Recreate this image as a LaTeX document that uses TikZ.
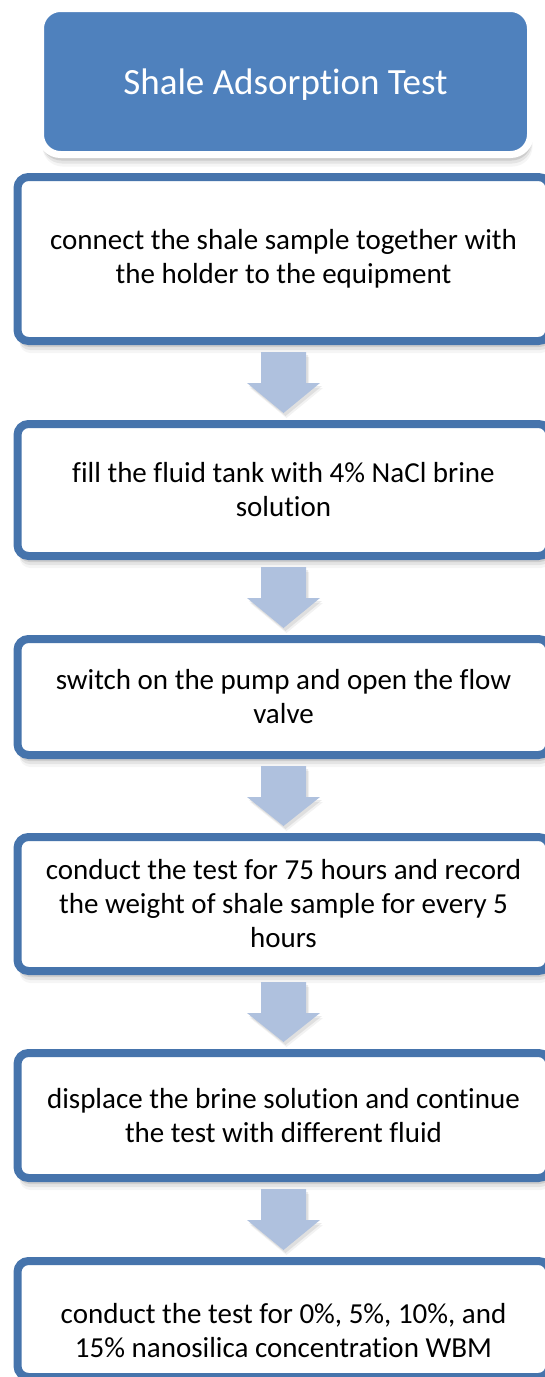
\documentclass[tikz,border=0pt]{standalone}
\usepackage{fontspec}
\setmainfont[Ligatures=NoCommon]{Carlito}
\usetikzlibrary{shadows,calc}

\definecolor{stepline}{HTML}{4674AC}
\definecolor{titlefill}{HTML}{4F81BD}
\definecolor{arrowfill}{HTML}{AFC1DE}

\tikzset{
  softshadow/.style={
    general shadow={fill=black, opacity=.10, shadow xshift=1pt, shadow yshift=-6pt},
    general shadow={fill=black, opacity=.07, shadow xshift=1.5pt, shadow yshift=-9pt},
    general shadow={fill=black, opacity=.04, shadow xshift=2pt, shadow yshift=-12pt}},
  titlebox/.style={draw=white, line width=7pt, fill=titlefill, rounded corners=20pt,
    minimum width=490pt, minimum height=146pt, inner sep=0pt, text=white,
    text depth=0pt, font=\fontsize{37}{44}\selectfont, softshadow},
  stepbox/.style={draw=stepline, line width=8pt, fill=white, rounded corners=11pt,
    minimum width=532pt, inner sep=0pt, align=center,
    font=\fontsize{29}{34}\selectfont, softshadow},
  flowarrow/.style={fill=arrowfill,
    general shadow={fill=black, opacity=.08, shadow xshift=2pt, shadow yshift=-3pt},
    general shadow={fill=black, opacity=.05, shadow xshift=3pt, shadow yshift=-5pt}},
}

\begin{document}
\begin{tikzpicture}[x=1pt, y=-1pt]
  \useasboundingbox (0,0) rectangle (544,1377);

  % heading
  \node[titlebox] (title) at (285.5,81.5) {Shale Adsorption Test};

  % procedure steps
  \node[stepbox, minimum height=164pt] (b1) at (283.5,259)
    {connect the shale sample together with\\the holder to the equipment};
  \node[stepbox, minimum height=132pt] (b2) at (283.5,490)
    {fill the fluid tank with 4\% NaCl brine\\solution};
  \node[stepbox, minimum height=116pt] (b3) at (283.5,697)
    {switch on the pump and open the flow\\valve};
  \node[stepbox, minimum height=134pt] (b4) at (283.5,904)
    {conduct the test for 75 hours and record\\the weight of shale sample for every 5\\hours};
  \node[stepbox, minimum height=125pt] (b5) at (283.5,1115.5)
    {displace the brine solution and continue\\the test with different fluid};
  \node[stepbox, minimum height=116pt,
        label={[align=center, font=\fontsize{29}{34}\selectfont, yshift=-12pt]center:%
          conduct the test for 0\%, 5\%, 10\%, and\\15\% nanosilica concentration WBM}]
    (b6) at (283.5,1319) {};

  % block arrows between consecutive steps
  \foreach \u/\v in {b1/b2, b2/b3, b3/b4, b4/b5, b5/b6}{
    \path[flowarrow]
      ($(\u.south)+(-22.5,7)$) -- ($(\u.south)+(22.5,7)$)
      -- ($(\u.south)+(22.5,38)$) -- ($(\u.south)+(36.5,38)$)
      -- ($(\v.north)+(0,-7)$)
      -- ($(\u.south)+(-36.5,38)$) -- ($(\u.south)+(-22.5,38)$) -- cycle;
  }
\end{tikzpicture}
\end{document}
